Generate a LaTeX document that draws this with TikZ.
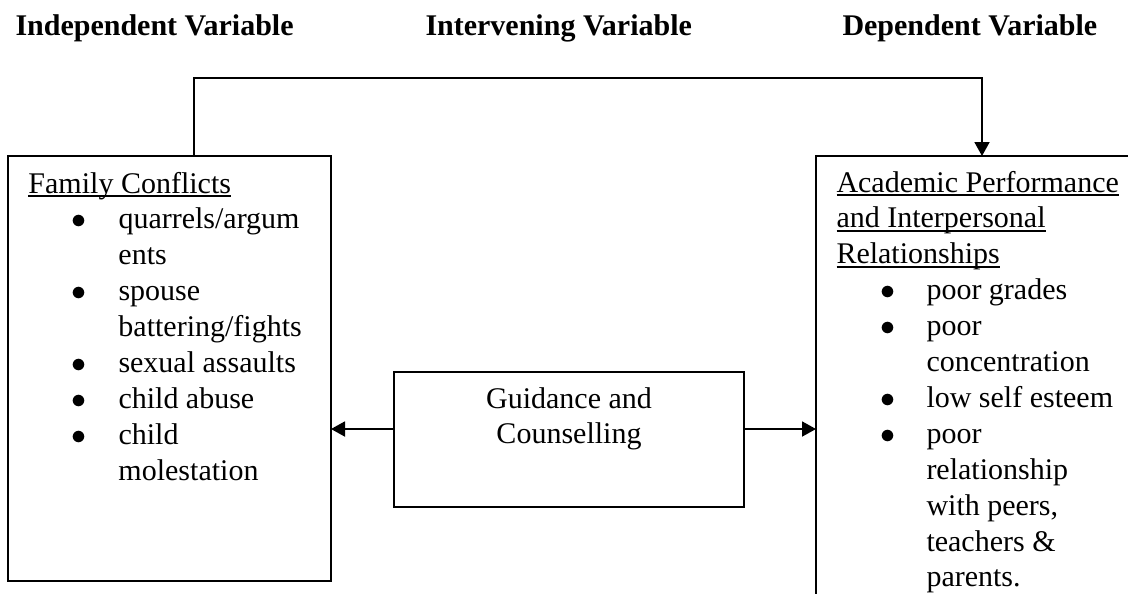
\documentclass[tikz,border=0pt]{standalone}
\usepackage{fontspec}
\setmainfont{Liberation Serif}
\usetikzlibrary{arrows.meta}
\newcommand{\wul}[1]{\leavevmode\setbox0\hbox{#1}\rlap{\rule[-1.5pt]{\wd0}{0.55pt}}\box0}
\newcommand{\bitem}[1]{\makebox[36pt][l]{\hspace*{17.4pt}$\bullet$}#1}
\newcommand{\bcont}[1]{\hspace*{36pt}#1}
\begin{document}
\begin{tikzpicture}[x=0.4pt,y=-0.4pt,
  box/.style={draw, line width=0.75pt, rectangle, inner sep=0pt, outer sep=0pt, anchor=north west},
  arr/.style={line width=0.75pt, -{Triangle[length=5.6pt,width=6pt]}},
  txt/.style={inner sep=0pt, anchor=base west, font=\fontsize{12}{14.36}\selectfont},
  head/.style={txt, font=\fontsize{12}{14.36}\selectfont\bfseries}]
\useasboundingbox (0,0) rectangle (1128,594);
\clip (0,0) rectangle (1128,594);

% headings
\node[head] (h1) at (15,35) {Independent Variable};
\node[head] (h2) at (425,35) {Intervening Variable};
\node[head] (h3) at (842,35) {Dependent Variable};

% boxes
\node[box, minimum width=129.2pt, minimum height=170pt] (lbox) at (8,156) {};
\node[box, minimum width=140pt, minimum height=54pt] (mbox) at (394,372) {};
\node[box, minimum width=160pt, minimum height=200pt] (rbox) at (816,156) {};

% box texts
\node[txt] (ltext) at (28,193) {\parbox[t]{120pt}{\raggedright
\wul{Family Conflicts}\\
\bitem{quarrels/argum}\\
\bcont{ents}\\
\bitem{spouse}\\
\bcont{battering/fights}\\
\bitem{sexual assaults}\\
\bitem{child abuse}\\
\bitem{child}\\
\bcont{molestation}}};

\node[txt, anchor=base] (mtext) at (569,408) {\parbox[t]{130pt}{\centering
Guidance and\\Counselling}};

\node[txt] (rtext) at (836,192) {\parbox[t]{120pt}{\raggedright
\wul{Academic Performance}\\
\wul{and Interpersonal}\\
\wul{Relationships}\\
\bitem{poor grades}\\
\bitem{poor}\\
\bcont{concentration}\\
\bitem{low self esteem}\\
\bitem{poor}\\
\bcont{relationship}\\
\bcont{with peers,}\\
\bcont{teachers \&}\\
\bcont{parents.}}};

% connectors
\draw[arr] ([xshift=74.4pt]lbox.north west) -- ++(0,-78) -| ([xshift=66.4pt]rbox.north west);
\draw[arr] ([yshift=4.2pt]mbox.west) -- ([yshift=4.2pt]mbox.west -| lbox.east);
\draw[arr] ([yshift=4.2pt]mbox.east) -- ([yshift=4.2pt]mbox.east -| rbox.west);
\end{tikzpicture}
\end{document}
